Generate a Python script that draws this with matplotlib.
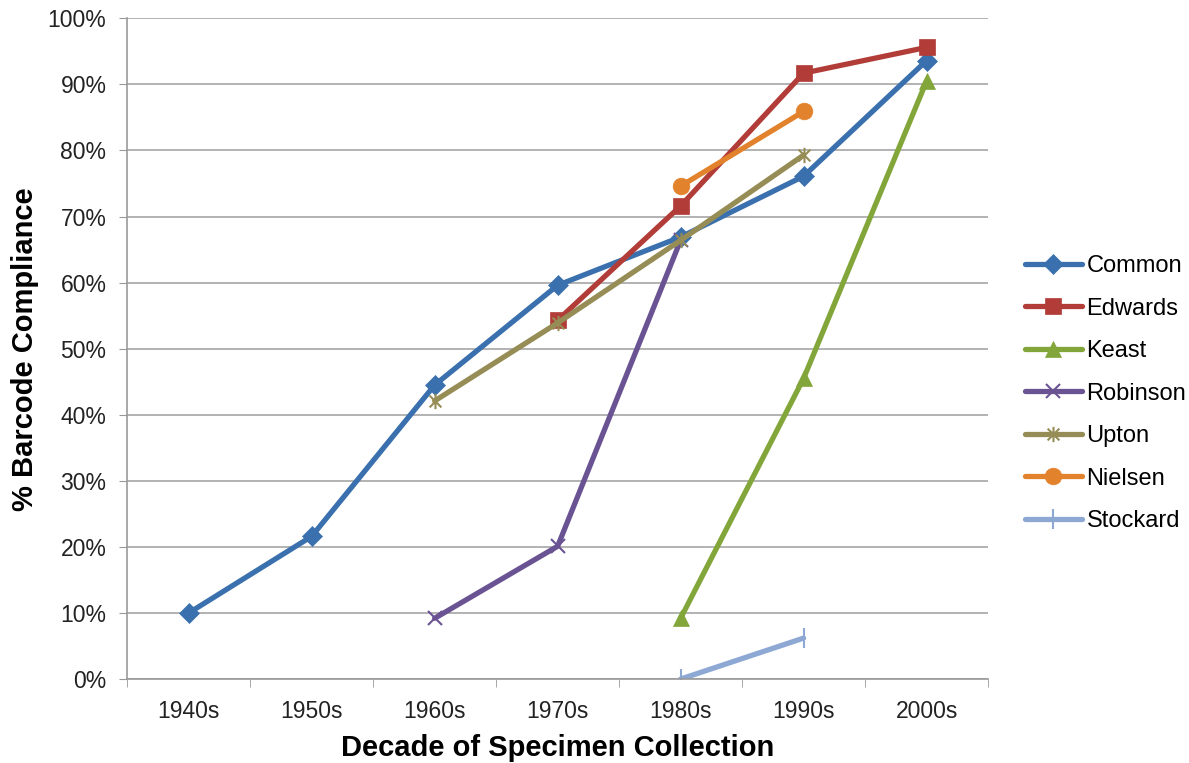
import numpy as np
import matplotlib.pyplot as plt
from matplotlib.path import Path
from matplotlib.ticker import FuncFormatter

plt.rcParams['font.family'] = ['Liberation Sans', 'DejaVu Sans']

decades = ["1940s", "1950s", "1960s", "1970s", "1980s", "1990s", "2000s"]
nan = np.nan

common = [10.0, 21.6, 44.5, 59.6, 66.9, 76.1, 93.6]
edwards = [nan, nan, nan, 54.3, 71.6, 91.7, 95.6]
keast = [nan, nan, nan, nan, 9.2, 45.5, 90.5]
robinson = [nan, nan, 9.2, 20.1, 66.4, nan, nan]
upton = [nan, nan, 42.1, 53.9, 66.4, 79.3, nan]
nielsen = [nan, nan, nan, nan, 74.6, 85.9, nan]
stockard = [nan, nan, nan, nan, 0.0, 6.2, nan]

# x with a vertical bar through it
star = Path([(-1, -1), (1, 1), (-1, 1), (1, -1), (0, -1.3), (0, 1.3)],
            [Path.MOVETO, Path.LINETO, Path.MOVETO, Path.LINETO, Path.MOVETO, Path.LINETO])

series = [
    ("Common", common, "#3a70ad", "D", 10),
    ("Edwards", edwards, "#b13c38", "s", 11.5),
    ("Keast", keast, "#83a63b", "^", 12),
    ("Robinson", robinson, "#6a5393", "x", 10),
    ("Upton", upton, "#968c55", star, 11),
    ("Nielsen", nielsen, "#e3822c", "o", 12),
    ("Stockard", stockard, "#8ea8d4", "|", 14),
]

fig = plt.figure(figsize=(11.89, 7.63), dpi=100)
ax = fig.add_axes([0.107, 0.110, 0.724, 0.866])

x = np.arange(len(decades))
for name, vals, color, marker, ms in series:
    y = np.array(vals, dtype=float)
    open_marker = not isinstance(marker, str) or marker in "x|"
    ax.plot(x, y, color=color, lw=3.8, marker=marker, ms=ms,
            mew=1.5 if open_marker else 0.5, mec=color,
            fillstyle="none" if open_marker else "full",
            label=name, solid_capstyle="round")

ax.set_xlim(-0.5, len(decades) - 0.5)
ax.set_ylim(0, 100)
ax.set_yticks(np.arange(0, 101, 10))
ax.yaxis.set_major_formatter(FuncFormatter(lambda v, p: f"{v:.0f}%"))
ax.set_xticks(x)
ax.set_xticklabels(decades)
ax.set_xticks(np.arange(-0.5, len(decades), 1), minor=True)
ax.tick_params(axis="x", which="major", length=0, labelsize=16.5, pad=15, labelcolor="#222222")
ax.tick_params(axis="x", which="minor", length=6, color="#999999")
ax.tick_params(axis="y", length=6, color="#999999", labelsize=16.5, pad=9, labelcolor="#222222")

ax.grid(axis="y", color="#a6a6a6", lw=1.2)
ax.set_axisbelow(True)
for side in ["top", "right"]:
    ax.spines[side].set_visible(False)
for side in ["left", "bottom"]:
    ax.spines[side].set_color("#999999")
    ax.spines[side].set_linewidth(1.2)

ax.set_xlabel("Decade of Specimen Collection", fontsize=21, fontweight="bold", labelpad=8)
ax.set_ylabel("% Barcode Compliance", fontsize=21, fontweight="bold", labelpad=6)

ax.legend(loc="center left", bbox_to_anchor=(1.043, 0.432), frameon=False,
          fontsize=17, handlelength=2.4, labelspacing=0.87, handletextpad=0.2,
          borderpad=0, borderaxespad=0)

fig.savefig("out.png", dpi=100)
